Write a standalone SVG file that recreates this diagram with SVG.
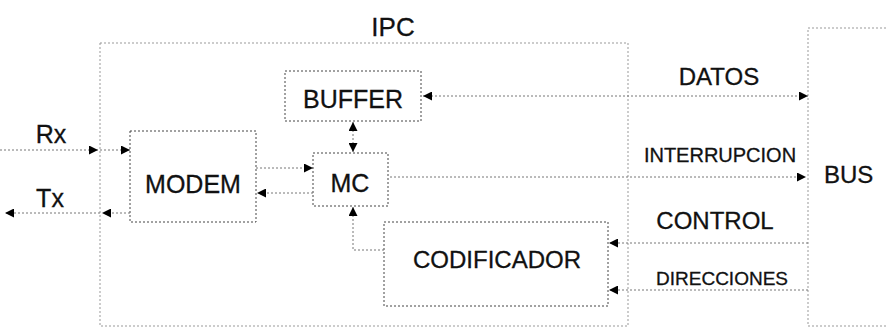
<svg xmlns="http://www.w3.org/2000/svg" width="886" height="329" viewBox="0 0 886 329">
<style>
.t{font-family:"Liberation Sans",Arial,sans-serif;fill:#111;stroke:#111;stroke-width:0.3}
.box{fill:none;stroke:#444;stroke-width:1;stroke-dasharray:2,2}
.frame{fill:none;stroke:#999;stroke-width:1;stroke-dasharray:2,2}
.ln{fill:none;stroke:#777;stroke-width:1;stroke-dasharray:2,2}
</style>
<defs>
<marker id="ah" viewBox="0 0 10 10" refX="10" refY="5" markerWidth="9" markerHeight="9" markerUnits="userSpaceOnUse" orient="auto-start-reverse">
<path d="M0,0 L10,5 L0,10 z" fill="#000"/>
</marker>
</defs>
<rect width="886" height="329" fill="#fff"/>
<g id="ipc">
<text class="t" x="393" y="36" font-size="26" text-anchor="middle">IPC</text>
<path class="frame" d="M100,43 H628 V326 H100 Z"/>
</g>
<g id="bus">
<path class="frame" d="M886,28 H808 V326 H886"/>
<text class="t" x="824" y="183" font-size="24">BUS</text>
</g>
<g id="buffer">
<rect class="box" x="285" y="71" width="136" height="50"/>
<text class="t" x="353" y="108" font-size="25" text-anchor="middle">BUFFER</text>
</g>
<g id="mc">
<rect class="box" x="313" y="153" width="75" height="53"/>
<text class="t" x="350" y="192" font-size="25" text-anchor="middle">MC</text>
</g>
<g id="modem">
<rect class="box" x="130" y="131" width="126" height="91"/>
<text class="t" x="193" y="193" font-size="25" text-anchor="middle">MODEM</text>
</g>
<g id="codificador">
<rect class="box" x="384" y="222" width="224" height="84"/>
<text class="t" x="497" y="268" font-size="24" text-anchor="middle">CODIFICADOR</text>
</g>
<g id="labels">
<text class="t" x="51" y="143" font-size="25" text-anchor="middle">Rx</text>
<text class="t" x="50" y="207" font-size="25" text-anchor="middle">Tx</text>
<text class="t" x="719" y="85" font-size="24" text-anchor="middle">DATOS</text>
<text class="t" x="720" y="162" font-size="20" text-anchor="middle">INTERRUPCION</text>
<text class="t" x="715" y="229" font-size="24" text-anchor="middle">CONTROL</text>
<text class="t" x="722" y="285" font-size="19" text-anchor="middle">DIRECCIONES</text>
</g>
<g id="connectors">
<path class="ln" d="M0,150 H98" marker-end="url(#ah)"/>
<path class="ln" d="M100,150 H130" marker-end="url(#ah)"/>
<path class="ln" d="M130,213 H102" marker-end="url(#ah)"/>
<path class="ln" d="M100,213 H5" marker-end="url(#ah)"/>
<path class="ln" d="M256,168 H313" marker-end="url(#ah)"/>
<path class="ln" d="M313,193 H257" marker-end="url(#ah)"/>
<path class="ln" d="M353,122 V152" marker-start="url(#ah)" marker-end="url(#ah)"/>
<path class="ln" d="M423,96 H808" marker-start="url(#ah)" marker-end="url(#ah)"/>
<path class="ln" d="M390,177 H806" marker-end="url(#ah)"/>
<path class="ln" d="M384,250 H353 V207" marker-end="url(#ah)"/>
<path class="ln" d="M808,243 H609" marker-end="url(#ah)"/>
<path class="ln" d="M808,290 H609" marker-end="url(#ah)"/>
</g>
</svg>
